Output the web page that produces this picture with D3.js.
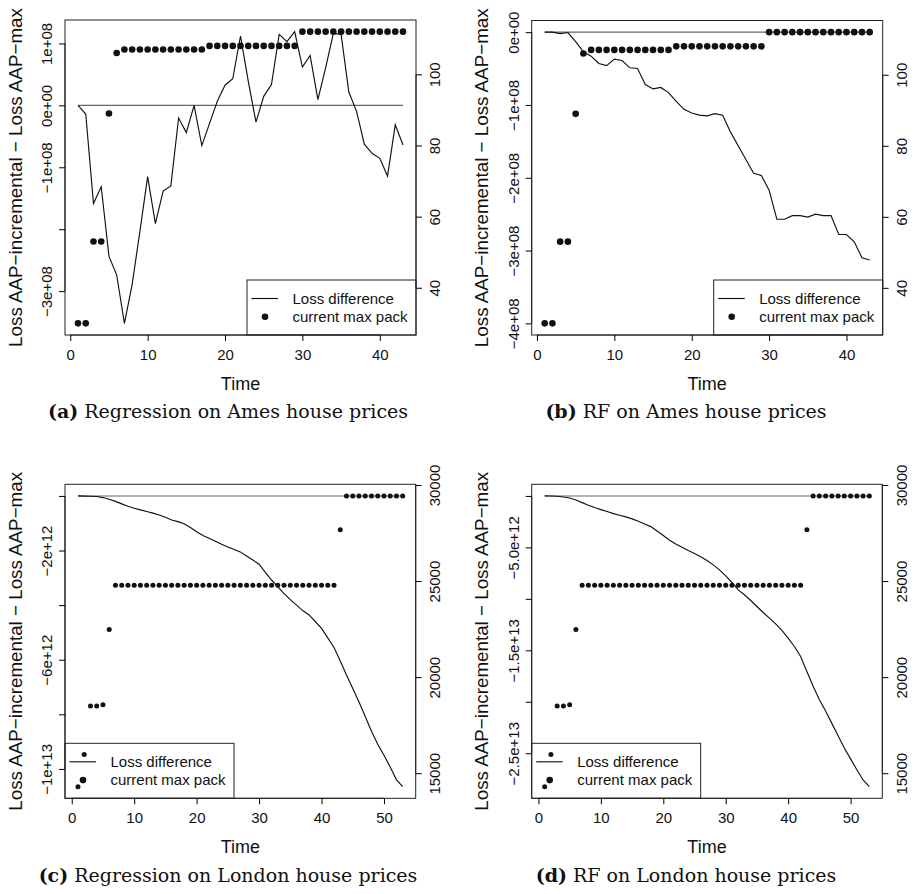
<!DOCTYPE html>
<html><head><meta charset="utf-8">
<script src="https://cdn.jsdelivr.net/npm/d3@7"></script>
<style>body{margin:0;background:#fff} svg{display:block}</style>
</head><body>
<script>
// ---------- DATA ----------
const timeAmes = [1,2,3,4,5,6,7,8,9,10,11,12,13,14,15,16,17,18,19,20,21,22,23,24,25,26,27,28,29,30,31,32,33,34,35,36,37,38,39,40,41,42,43];
const timeLondon = [1,2,3,4,5,6,7,8,9,10,11,12,13,14,15,16,17,18,19,20,21,22,23,24,25,26,27,28,29,30,31,32,33,34,35,36,37,38,39,40,41,42,43,44,45,46,47,48,49,50,51,52,53];

// (a) Regression on Ames: loss difference
const lossRegAmes = [0,-0.14e8,-1.585e8,-1.315e8,-2.435e8,-2.74e8,-3.52e8,-2.89e8,-2.035e8,-1.15e8,-1.91e8,-1.385e8,-1.30e8,-0.205e8,-0.44e8,0,-0.65e8,-0.29e8,0.065e8,0.325e8,0.43e8,1.12e8,0.39e8,-0.27e8,0.146e8,0.335e8,1.147e8,1.03e8,1.19e8,0.617e8,0.806e8,0.092e8,0.606e8,1.163e8,1.147e8,0.216e8,-0.097e8,-0.628e8,-0.774e8,-0.855e8,-1.142e8,-0.314e8,-0.639e8];
// (b) RF on Ames: loss difference
const lossRfAmes = [0,0,-0.02e8,-0.005e8,-0.13e8,-0.27e8,-0.33e8,-0.43e8,-0.46e8,-0.37e8,-0.39e8,-0.49e8,-0.50e8,-0.72e8,-0.78e8,-0.76e8,-0.83e8,-0.95e8,-1.06e8,-1.11e8,-1.14e8,-1.15e8,-1.12e8,-1.14e8,-1.37e8,-1.56e8,-1.75e8,-1.94e8,-1.97e8,-2.17e8,-2.57e8,-2.57e8,-2.52e8,-2.52e8,-2.54e8,-2.50e8,-2.52e8,-2.52e8,-2.78e8,-2.78e8,-2.88e8,-3.10e8,-3.13e8];
// current max pack, Ames
const packAmes = [30,30,53,53,89,106,107,107,107,107,107,107,107,107,107,107,107,108,108,108,108,108,108,108,108,108,108,108,108,112,112,112,112,112,112,112,112,112,112,112,112,112,112];

// (c) Regression on London: loss difference
const lossRegLondon = [0,-0.005e12,-0.01e12,-0.02e12,-0.06e12,-0.12e12,-0.20e12,-0.29e12,-0.38e12,-0.45e12,-0.51e12,-0.57e12,-0.63e12,-0.70e12,-0.78e12,-0.88e12,-0.94e12,-1.02e12,-1.16e12,-1.31e12,-1.45e12,-1.55e12,-1.66e12,-1.77e12,-1.87e12,-1.96e12,-2.05e12,-2.20e12,-2.35e12,-2.50e12,-2.80e12,-3.08e12,-3.33e12,-3.58e12,-3.80e12,-4.00e12,-4.20e12,-4.36e12,-4.60e12,-4.85e12,-5.20e12,-5.55e12,-6.05e12,-6.56e12,-7.05e12,-7.55e12,-8.08e12,-8.62e12,-9.10e12,-9.50e12,-9.93e12,-10.40e12,-10.65e12];
// (d) RF on London: loss difference
const lossRfLondon = [0,-0.01e12,-0.03e12,-0.10e12,-0.20e12,-0.39e12,-0.65e12,-0.90e12,-1.13e12,-1.33e12,-1.52e12,-1.72e12,-1.88e12,-2.04e12,-2.23e12,-2.46e12,-2.72e12,-2.98e12,-3.40e12,-3.85e12,-4.30e12,-4.66e12,-4.98e12,-5.31e12,-5.60e12,-5.90e12,-6.28e12,-6.70e12,-7.18e12,-7.77e12,-8.41e12,-9.13e12,-9.60e12,-10.16e12,-10.74e12,-11.33e12,-11.88e12,-12.43e12,-13.07e12,-13.82e12,-14.63e12,-15.60e12,-17.06e12,-18.50e12,-19.80e12,-20.90e12,-22.10e12,-23.30e12,-24.50e12,-25.55e12,-26.60e12,-27.60e12,-28.25e12];
// current max pack, London
const packLondon = [14300,15970,18500,18500,18560,22480,24780,24780,24780,24780,24780,24780,24780,24780,24780,24780,24780,24780,24780,24780,24780,24780,24780,24780,24780,24780,24780,24780,24780,24780,24780,24780,24780,24780,24780,24780,24780,24780,24780,24780,24780,24780,27670,29430,29430,29430,29430,29430,29430,29430,29430,29430,29430];

// tick values and labels
const xTicksAmes = [0,10,20,30,40];
const xTicksLondon = [0,10,20,30,40,50];
const leftTicksA = [-3e8,-2e8,-1e8,0,1e8];
const leftLabelsA = ["\u22123e+08","","\u22121e+08","0e+00","1e+08"];
const ylimB = [-4e8,0];
const leftTicksB = [-4e8,-3e8,-2e8,-1e8,0];
const leftLabelsB = ["\u22124e+08","\u22123e+08","\u22122e+08","\u22121e+08","0e+00"];
const leftTicksC = [-1e13,-8e12,-6e12,-4e12,-2e12,0];
const leftLabelsC = ["\u22121e+13","","\u22126e+12","","\u22122e+12",""];
const leftTicksD = [-2.5e13,-2e13,-1.5e13,-1e13,-5e12,0];
const leftLabelsD = ["\u22122.5e+13","","\u22121.5e+13","","\u22125.0e+12",""];
const rightTicksAmes = [40,60,80,100];
const rightTicksLondon = [15000,20000,25000,30000];

const legendLabels = ["Loss difference","current max pack"];
const xTitle = "Time";
const yTitle = "Loss AAP\u2212incremental \u2212 Loss AAP\u2212max";
const captions = [["(a)"," Regression on Ames house prices"],["(b)"," RF on Ames house prices"],["(c)"," Regression on London house prices"],["(d)"," RF on London house prices"]];

// ---------- LAYOUT ----------
const W = 915, H = 894;
const sans = "'Liberation Sans', Arial, Helvetica, sans-serif";
const serif = "'DejaVu Serif', serif";
const svg = d3.select("body").append("svg").attr("width", W).attr("height", H);

const panels = [
  {box:{x0:65,x1:416,y0:20,y1:335}, time:timeAmes, loss:lossRegAmes, pack:packAmes, ylim:null,
   xTicks:xTicksAmes, lT:leftTicksA, lL:leftLabelsA, rT:rightTicksAmes, legend:"right", r:3.3, cap:captions[0], capX:228, capY:418},
  {box:{x0:531.7,x1:882.7,y0:20.5,y1:335}, time:timeAmes, loss:lossRfAmes, pack:packAmes, ylim:ylimB,
   xTicks:xTicksAmes, lT:leftTicksB, lL:leftLabelsB, rT:rightTicksAmes, legend:"right", r:3.3, cap:captions[1], capX:686, capY:418},
  {box:{x0:65,x1:415.7,y0:484.3,y1:798.3}, time:timeLondon, loss:lossRegLondon, pack:packLondon, ylim:null,
   xTicks:xTicksLondon, lT:leftTicksC, lL:leftLabelsC, rT:rightTicksLondon, legend:"left", r:2.5, cap:captions[2], capX:228, capY:882},
  {box:{x0:531.7,x1:882.3,y0:484.3,y1:798.3}, time:timeLondon, loss:lossRfLondon, pack:packLondon, ylim:null,
   xTicks:xTicksLondon, lT:leftTicksD, lL:leftLabelsD, rT:rightTicksLondon, legend:"left", r:2.5, cap:captions[3], capX:686, capY:882}
];

function pad(e){ const s = e[1]-e[0]; return [e[0]-0.04*s, e[1]+0.04*s]; }

panels.forEach(p => {
  const b = p.box;
  const g = svg.append("g");
  const x = d3.scaleLinear().domain(pad(d3.extent(p.time))).range([b.x0, b.x1]);
  const yl = d3.scaleLinear().domain(pad(p.ylim || d3.extent(p.loss.concat([0])))).range([b.y1, b.y0]);
  const yr = d3.scaleLinear().domain(pad(d3.extent(p.pack))).range([b.y1, b.y0]);

  // zero reference line
  const n = p.time.length;
  g.append("line").attr("x1", x(p.time[0])).attr("x2", x(p.time[n-1]))
    .attr("y1", yl(0)).attr("y2", yl(0)).attr("stroke", "#666").attr("stroke-width", 1.1);

  // loss difference line
  g.append("path").datum(p.time.map((t,i)=>[t,p.loss[i]]))
    .attr("fill","none").attr("stroke","#111").attr("stroke-width",1.15)
    .attr("d", d3.line().x(d=>x(d[0])).y(d=>yl(d[1])));

  // pack points
  g.selectAll("circle.pk").data(p.time.map((t,i)=>[t,p.pack[i]])).join("circle")
    .attr("class","pk").attr("cx", d=>x(d[0])).attr("cy", d=>yr(d[1])).attr("r", p.r).attr("fill","#111");

  // box
  g.append("rect").attr("x", b.x0).attr("y", b.y0).attr("width", b.x1-b.x0).attr("height", b.y1-b.y0)
    .attr("fill","none").attr("stroke","#222").attr("stroke-width",1);

  // bottom axis
  const ax = g.append("g").attr("transform",`translate(0,${b.y1})`)
    .call(d3.axisBottom(x).tickValues(p.xTicks).tickSize(6).tickPadding(8.5).tickFormat(d3.format("d")));
  ax.select(".domain").attr("d", `M${x(p.xTicks[0])},0H${x(p.xTicks[p.xTicks.length-1])}`).attr("stroke","#222");
  ax.selectAll("text").attr("font-family", sans).attr("font-size", 15).attr("fill","#111");

  // left axis
  const al = g.append("g").attr("transform",`translate(${b.x0},0)`)
    .call(d3.axisLeft(yl).tickValues(p.lT).tickSize(6).tickFormat((d,i)=>p.lL[i]));
  al.select(".domain").attr("d", `M0,${yl(p.lT[0])}V${yl(p.lT[p.lT.length-1])}`).attr("stroke","#222");
  al.selectAll("text").attr("font-family", sans).attr("font-size", 15).attr("fill","#111")
    .attr("transform","rotate(-90)").attr("x",0).attr("y",-18).attr("dy","0.35em").attr("text-anchor","middle");

  // right axis
  const ar = g.append("g").attr("transform",`translate(${b.x1},0)`)
    .call(d3.axisRight(yr).tickValues(p.rT).tickSize(6).tickFormat(d3.format("d")));
  ar.select(".domain").attr("d", `M0,${yr(p.rT[0])}V${yr(p.rT[p.rT.length-1])}`).attr("stroke","#222");
  ar.selectAll("text").attr("font-family", sans).attr("font-size", 15).attr("fill","#111")
    .attr("transform","rotate(-90)").attr("x",0).attr("y",19).attr("dy","0.35em").attr("text-anchor","middle");

  // axis titles
  g.append("text").attr("x", (b.x0+b.x1)/2).attr("y", b.y1+54.5).attr("text-anchor","middle")
    .attr("font-family", sans).attr("font-size", 18).attr("fill","#111").text(xTitle);
  const cy = (b.y0+b.y1)/2;
  g.append("text").attr("transform",`translate(${b.x0-50},${cy}) rotate(-90)`).attr("dy","0.35em")
    .attr("text-anchor","middle").attr("font-family", sans).attr("font-size", 18.8).attr("fill","#111").text(yTitle);

  // legend
  const lw = 169, lh = 55;
  const lx = p.legend === "right" ? b.x1 - lw : b.x0;
  const ly = b.y1 - lh;
  const lg = g.append("g");
  lg.append("rect").attr("x", lx).attr("y", ly).attr("width", lw).attr("height", lh)
    .attr("fill","none").attr("stroke","#222").attr("stroke-width",1);
  lg.append("line").attr("x1", lx+4.5).attr("x2", lx+31).attr("y1", ly+18.5).attr("y2", ly+18.5)
    .attr("stroke","#111").attr("stroke-width",1.15);
  lg.append("circle").attr("cx", lx+18).attr("cy", ly+36.8).attr("r", 3.3).attr("fill","#111");
  legendLabels.forEach((t,i)=>{
    lg.append("text").attr("x", lx+45.5).attr("y", ly+18.5+i*18.3).attr("dy","0.35em")
      .attr("font-family", sans).attr("font-size", 15).attr("fill","#111").text(t);
  });

  // caption
  const ct = svg.append("text").attr("x", p.capX).attr("y", p.capY).attr("text-anchor","middle")
    .attr("font-family", serif).attr("font-size", 19).attr("fill","#111");
  ct.append("tspan").attr("font-weight","bold").text(p.cap[0]);
  ct.append("tspan").text(p.cap[1]);
});
</script>
</body></html>
